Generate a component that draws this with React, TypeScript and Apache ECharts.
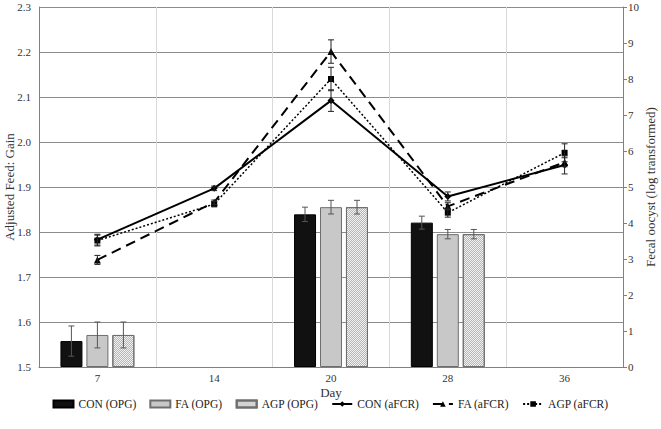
import React, { useEffect, useRef } from "react";
import * as echarts from "echarts";

const days = ["7", "14", "20", "28", "36"];
const conOPG = [0.72, null, 4.24, 4.01, null];
const conOPGErr = [0.42, null, 0.2, 0.18, null];
const faOPG = [0.89, null, 4.44, 3.69, null];
const faOPGErr = [0.36, null, 0.19, 0.13, null];
const agpOPG = [0.89, null, 4.44, 3.69, null];
const agpOPGErr = [0.36, null, 0.19, 0.13, null];
const conFCR = [1.783, 1.897, 2.092, 1.879, 1.949];
const conFCRErr = [0.012, 0.005, 0.024, 0.01, 0.02];
const faFCR = [1.738, 1.866, 2.201, 1.857, 1.955];
const faFCRErr = [0.01, 0.005, 0.026, 0.008, 0.01];
const agpFCR = [1.781, 1.862, 2.14, 1.843, 1.976];
const agpFCRErr = [0.012, 0.006, 0.026, 0.01, 0.02];
const legendNames = ["CON (OPG)", "FA (OPG)", "AGP (OPG)", "CON (aFCR)", "FA (aFCR)", "AGP (aFCR)"];

const FONT = "'Liberation Serif', 'Times New Roman', serif";
const TXT = "#333";

function errData(vals: (number | null)[], errs: (number | null)[]) {
  const out: number[][] = [];
  vals.forEach((v, i) => {
    if (v != null && errs[i] != null) out.push([i, v, errs[i] as number]);
  });
  return out;
}

function errSeries(name: string, vals: any[], errs: any[], offset: number, color: string, yAxisIndex: number) {
  return {
    name,
    type: "custom",
    yAxisIndex,
    z: 5,
    encode: { x: 0, y: 1 },
    data: errData(vals, errs),
    renderItem: (params: any, api: any) => {
      const i = api.value(0);
      const v = api.value(1);
      const e = api.value(2);
      const top = api.coord([i, v + e]);
      const bot = api.coord([i, v - e]);
      const x = top[0] + offset;
      const st = { stroke: color, lineWidth: 1 };
      return {
        type: "group",
        children: [
          { type: "line", shape: { x1: x, y1: top[1], x2: x, y2: bot[1] }, style: st },
          { type: "line", shape: { x1: x - 3, y1: top[1], x2: x + 3, y2: top[1] }, style: st },
          { type: "line", shape: { x1: x - 3, y1: bot[1], x2: x + 3, y2: bot[1] }, style: st },
        ],
      };
    },
  };
}

export default function App() {
  const ref = useRef<HTMLDivElement>(null);
  useEffect(() => {
    if (!ref.current) return;
    const chart = echarts.init(ref.current, null, { renderer: "svg" });
    chart.setOption({
      animation: false,
      textStyle: { fontFamily: FONT, color: TXT },
      grid: { left: 39, right: 38, top: 7, bottom: 62, containLabel: false, outerBoundsMode: "none" },
      legend: {
        bottom: 14,
        left: "center",
        itemWidth: 20,
        itemHeight: 7,
        itemGap: 13,
        textStyle: { fontFamily: FONT, fontSize: 11.5, color: "#222" },
        data: legendNames.map((n, i) => (i < 3 ? { name: n, icon: "rect" } : { name: n })),
      },
      xAxis: {
        type: "category",
        data: days,
        name: "Day",
        nameLocation: "middle",
        nameGap: 19,
        nameMoveOverlap: false,
        nameTextStyle: { fontFamily: FONT, fontSize: 13, color: TXT },
        axisLine: { lineStyle: { color: "#808080" } },
        axisTick: { show: false },
        axisLabel: { fontFamily: FONT, fontSize: 11, color: TXT, margin: 5 },
        splitLine: { show: true, lineStyle: { color: "#d9d9d9", width: 1 } },
      },
      yAxis: [
        {
          type: "value",
          min: 1.5,
          max: 2.3,
          interval: 0.1,
          name: "Adjusted Feed: Gain",
          nameLocation: "middle",
          nameGap: 23,
          nameMoveOverlap: false,
          nameTextStyle: { fontFamily: FONT, fontSize: 13, color: TXT },
          axisLine: { show: true, lineStyle: { color: "#808080" } },
          axisTick: { show: false },
          axisLabel: { fontFamily: FONT, fontSize: 11, color: TXT, margin: 8, formatter: (v: number) => v.toFixed(1) },
          splitLine: { show: true, lineStyle: { color: "#8c8c8c", width: 1 } },
        },
        {
          type: "value",
          min: 0,
          max: 10,
          interval: 1,
          name: "Fecal oocyst (log transformed)",
          nameLocation: "middle",
          nameGap: 21,
          nameRotate: 90,
          nameMoveOverlap: false,
          nameTextStyle: { fontFamily: FONT, fontSize: 13, color: TXT },
          axisLine: { show: true, lineStyle: { color: "#808080" } },
          axisTick: { show: true, length: 4, lineStyle: { color: "#808080" } },
          axisLabel: { fontFamily: FONT, fontSize: 11, color: TXT, margin: 5 },
          splitLine: { show: false },
        },
      ],
      series: [
        {
          name: "CON (OPG)",
          type: "bar",
          yAxisIndex: 1,
          barWidth: 22,
          barGap: "18%",
          data: conOPG,
          itemStyle: { color: "#111", borderColor: "#000", borderWidth: 1 },
        },
        {
          name: "FA (OPG)",
          type: "bar",
          yAxisIndex: 1,
          barWidth: 22,
          barGap: "18%",
          data: faOPG,
          itemStyle: { color: "#c8c8c8", borderColor: "#6e6e6e", borderWidth: 1 },
        },
        {
          name: "AGP (OPG)",
          type: "bar",
          yAxisIndex: 1,
          barWidth: 22,
          barGap: "18%",
          data: agpOPG,
          itemStyle: {
            color: "#f2f2f2",
            borderColor: "#6e6e6e",
            borderWidth: 1,
            decal: {
              symbol: "rect",
              symbolSize: 1,
              color: "rgba(120,120,120,0.5)",
              dashArrayX: [[1, 1], [0, 1, 1, 0]],
              dashArrayY: [1, 0],
              rotation: 0,
            },
          },
        },
        errSeries("e1", conOPG, conOPGErr, -26, "#555", 1),
        errSeries("e2", faOPG, faOPGErr, 0, "#555", 1),
        errSeries("e3", agpOPG, agpOPGErr, 26, "#555", 1),
        {
          name: "CON (aFCR)",
          type: "line",
          yAxisIndex: 0,
          data: conFCR,
          symbol: "diamond",
          symbolSize: 7,
          z: 4,
          itemStyle: { color: "#000" },
          lineStyle: { color: "#000", width: 2, type: "solid" },
        },
        {
          name: "FA (aFCR)",
          type: "line",
          yAxisIndex: 0,
          data: faFCR,
          symbol: "triangle",
          symbolSize: 7,
          z: 4,
          itemStyle: { color: "#000" },
          lineStyle: { color: "#000", width: 2, type: [10, 6] },
        },
        {
          name: "AGP (aFCR)",
          type: "line",
          yAxisIndex: 0,
          data: agpFCR,
          symbol: "rect",
          symbolSize: 6,
          z: 4,
          itemStyle: { color: "#000" },
          lineStyle: { color: "#000", width: 1.5, type: [2, 2] },
        },
        errSeries("e4", conFCR, conFCRErr, 0, "#222", 0),
        errSeries("e5", faFCR, faFCRErr, 0, "#222", 0),
        errSeries("e6", agpFCR, agpFCRErr, 0, "#222", 0),
      ],
    });
    return () => chart.dispose();
  }, []);
  return <div ref={ref} style={{ width: 661, height: 429, position: "absolute", left: 0, top: 0 }} />;
}
